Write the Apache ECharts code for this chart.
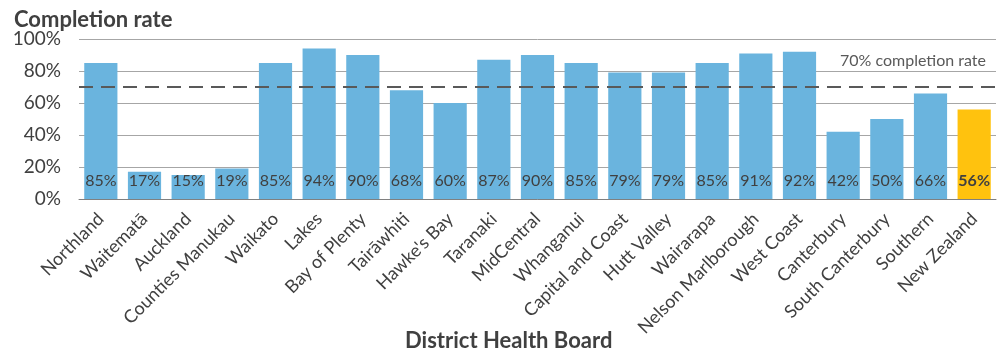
<!DOCTYPE html>
<html>
<head>
<meta charset="utf-8">
<script src="https://cdn.jsdelivr.net/npm/echarts@6/dist/echarts.min.js"></script>
<style>html,body{margin:0;padding:0;background:#fff;}#c{width:1004px;height:355px;}</style>
</head>
<body>
<div id="c"></div>
<script>
const categories = ['Northland','Waitematā','Auckland','Counties Manukau','Waikato','Lakes','Bay of Plenty','Tairāwhiti',"Hawke's Bay",'Taranaki','MidCentral','Whanganui','Capital and Coast','Hutt Valley','Wairarapa','Nelson Marlborough','West Coast','Canterbury','South Canterbury','Southern','New Zealand'];
const rates = [85,17,15,19,85,94,90,68,60,87,90,85,79,79,85,91,92,42,50,66,56];
const target = 70;
const yTicks = [0,20,40,60,80,100];
const FONT = 'Lato';
const highlight = 'New Zealand';

const chart = echarts.init(document.getElementById('c'));
chart.setOption({
  animation:false,
  textStyle:{fontFamily:FONT},
  title:[
    {text:'Completion rate',left:9,top:4,textStyle:{fontFamily:FONT,fontSize:22,fontWeight:'bold',color:'#404040'}},
    {text:'District Health Board',left:400,top:325,textStyle:{fontFamily:FONT,fontSize:22,fontWeight:'bold',color:'#404040'}}
  ],
  grid:{left:79,right:8,top:39,bottom:156},
  xAxis:{
    type:'category',data:categories,
    axisTick:{show:false},
    axisLine:{lineStyle:{color:'#808080',width:1}},
    axisLabel:{rotate:45,interval:0,fontSize:18,color:'#404040',margin:17,fontFamily:FONT}
  },
  yAxis:{
    type:'value',min:yTicks[0],max:yTicks[yTicks.length-1],interval:20,
    axisLabel:{formatter:'{value}%',fontSize:19,color:'#404040',margin:18,fontFamily:FONT},
    splitLine:{lineStyle:{color:'#A6A6A6',width:1}},
    axisLine:{show:false},axisTick:{show:false}
  },
  series:[{
    type:'bar',
    barCategoryGap:'24%',
    data:rates.map((v,i)=>{
      const hl = categories[i]===highlight;
      return {value:v,itemStyle:{color:hl?'#FFC20E':'#6AB4DE'},
        label:{fontWeight:hl?'bold':'normal'}};
    }),
    label:{show:true,position:'insideBottom',distance:10,formatter:'{c}%',fontSize:16,color:'#404040',fontFamily:FONT},
    markLine:{
      silent:true,symbol:'none',
      lineStyle:{type:[14,8],color:'#595959',width:2},
      label:{show:true,position:'insideEndTop',formatter:'70% completion rate',fontSize:16,color:'#595959',fontFamily:FONT,distance:[10,18]},
      data:[{yAxis:target}]
    }
  }]
});
</script>
</body>
</html>
